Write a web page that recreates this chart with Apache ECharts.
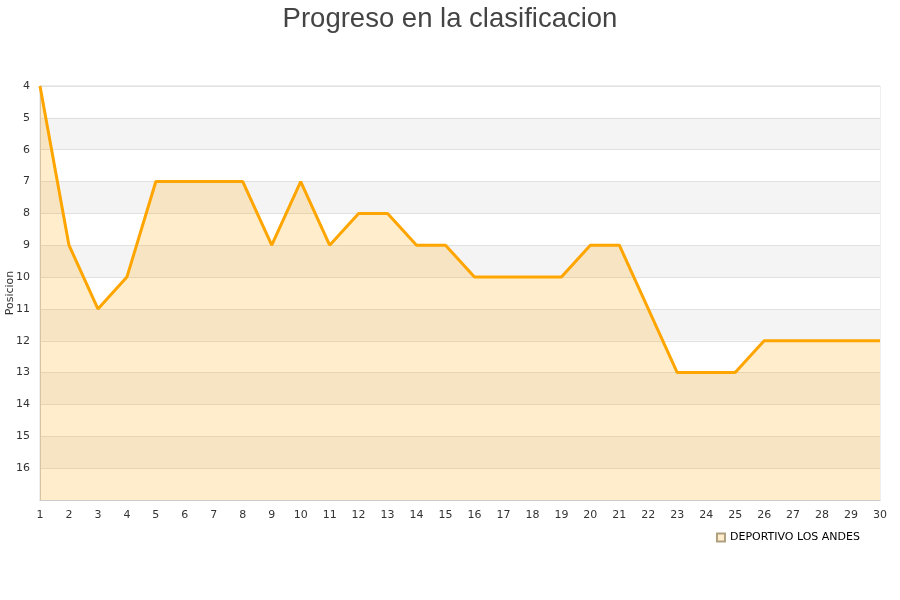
<!DOCTYPE html>
<html><head><meta charset="utf-8">
<script src="https://cdn.jsdelivr.net/npm/echarts@6/dist/echarts.min.js"></script>
<style>html,body{margin:0;padding:0;background:#fff}#c{width:900px;height:600px}</style>
</head><body><div id="c"></div>
<script>
var jornadas = ['1','2','3','4','5','6','7','8','9','10','11','12','13','14','15','16','17','18','19','20','21','22','23','24','25','26','27','28','29','30'];
var posiciones = [4,9,11,10,7,7,7,7,9,7,9,8,8,9,9,10,10,10,10,9,9,11,13,13,13,12,12,12,12,12];
var equipo = 'DEPORTIVO LOS ANDES';
var chart = echarts.init(document.getElementById('c'));
chart.setOption({
  animation:false,
  title:{text:'Progreso en la clasificacion',left:'center',top:0,textStyle:{fontFamily:'Liberation Sans',fontSize:27.5,fontWeight:'normal',color:'#444'}},
  grid:{left:40,right:20,top:86,bottom:100,containLabel:false,outerBoundsMode:'none',show:true,borderColor:'#ddd',borderWidth:1,backgroundColor:'transparent'},
  legend:{data:[{name:equipo,icon:'rect'}],right:35,top:527,itemWidth:8,itemHeight:8,textStyle:{fontFamily:'DejaVu Sans',fontSize:11,color:'#000'}},
  xAxis:{type:'category',data:jornadas,boundaryGap:false,
    axisLine:{lineStyle:{color:'#ccc'}},axisTick:{show:false},
    axisLabel:{fontFamily:'DejaVu Sans',fontSize:11,color:'#333',margin:10},splitLine:{show:false}},
  yAxis:{type:'value',inverse:true,min:4,max:17,interval:1,name:'Posicion',nameLocation:'middle',nameGap:24,nameMoveOverlap:false,
    nameTextStyle:{fontFamily:'DejaVu Sans',fontSize:11,color:'#333'},
    axisLine:{show:true,lineStyle:{color:'#ccc'}},axisTick:{show:false},
    axisLabel:{fontFamily:'DejaVu Sans',fontSize:11,color:'#333',margin:10,formatter:function(v){return v>=17?'':v;}},
    splitLine:{show:true,lineStyle:{color:'#e0e0e0'}},
    splitArea:{show:true,areaStyle:{color:['#ffffff','#f4f4f4']}}},
  series:[{name:equipo,type:'line',data:posiciones,symbol:'none',
    lineStyle:{color:'#ffa500',width:3},itemStyle:{color:'#ffedcc',borderColor:'#b0a080',borderWidth:1},
    areaStyle:{color:'rgba(255,165,0,0.2)',opacity:1,origin:'end'}}]
});
</script></body></html>
